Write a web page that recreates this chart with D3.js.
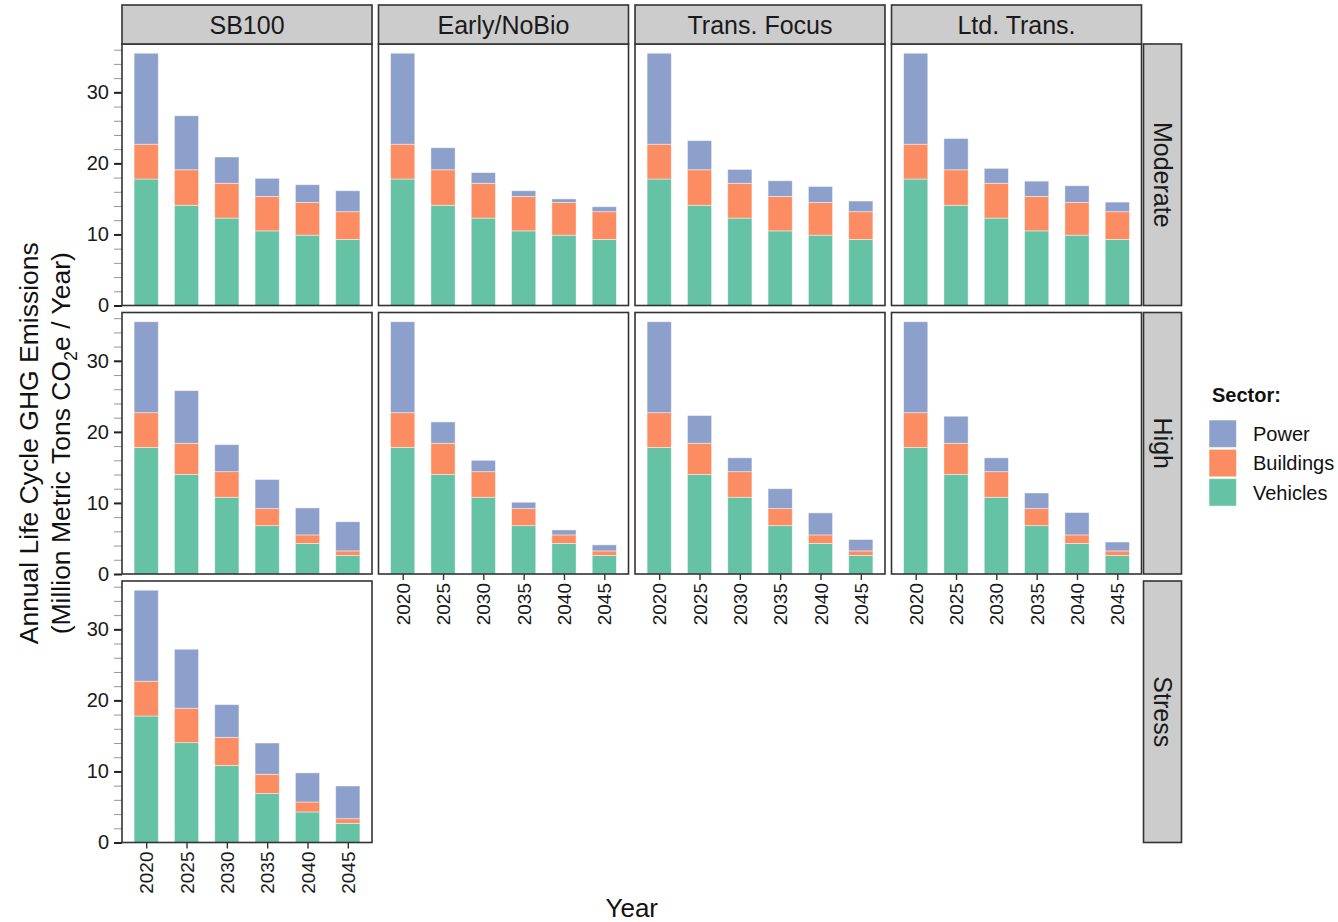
<!DOCTYPE html>
<html>
<head>
<meta charset="utf-8">
<script src="https://cdn.jsdelivr.net/npm/d3@7"></script>
<style>
  html, body { margin: 0; padding: 0; background: #fff; }
  svg { display: block; font-family: "Liberation Sans", Arial, sans-serif; }
</style>
</head>
<body>
<svg id="chart" width="1338" height="922"></svg>
<script>
// ---- data: annual life-cycle GHG emissions (Mt CO2e / yr) ----
const years = [2020, 2025, 2030, 2035, 2040, 2045];
const scenarios = ["SB100", "Early/NoBio", "Trans. Focus", "Ltd. Trans."];
const demandCases = ["Moderate", "High", "Stress"];
const sectors = ["Power", "Buildings", "Vehicles"];
const sectorColors = ["#8DA0CB", "#FC8D62", "#66C2A5"];
const yTicks = [0, 10, 20, 30];

// vehicles and buildings depend only on the demand case
const vehiclesModerate = [17.8, 14.1, 12.3, 10.5, 9.9, 9.3];
const vehiclesHigh     = [17.8, 14.0, 10.8, 6.8, 4.3, 2.6];
const vehiclesStress   = [17.8, 14.05, 10.85, 6.9, 4.3, 2.7];

const buildingsModerate = [4.9, 5.0, 4.9, 4.85, 4.6, 3.9];
const buildingsHigh     = [4.9, 4.4, 3.6, 2.4, 1.2, 0.65];
const buildingsStress   = [4.9, 4.85, 3.95, 2.7, 1.4, 0.65];

// power differs per scenario
const powerSB100Moderate      = [12.8, 7.6, 3.7, 2.55, 2.5, 2.95];
const powerEarlyModerate      = [12.8, 3.1, 1.5, 0.8, 0.5, 0.7];
const powerTransFocusModerate = [12.8, 4.1, 1.95, 2.2, 2.25, 1.5];
const powerLtdTransModerate   = [12.8, 4.4, 2.1, 2.15, 2.35, 1.35];
const powerSB100High          = [12.8, 7.4, 3.8, 4.1, 3.8, 4.1];
const powerEarlyHigh          = [12.8, 3.0, 1.6, 0.9, 0.7, 0.85];
const powerTransFocusHigh     = [12.8, 3.9, 1.95, 2.8, 3.1, 1.6];
const powerLtdTransHigh       = [12.8, 3.8, 1.95, 2.2, 3.15, 1.25];
const powerSB100Stress        = [12.8, 8.3, 4.6, 4.4, 4.1, 4.6];

// panel list: [row, col, power, buildings, vehicles]
const panels = [
  [0, 0, powerSB100Moderate, buildingsModerate, vehiclesModerate],
  [0, 1, powerEarlyModerate, buildingsModerate, vehiclesModerate],
  [0, 2, powerTransFocusModerate, buildingsModerate, vehiclesModerate],
  [0, 3, powerLtdTransModerate, buildingsModerate, vehiclesModerate],
  [1, 0, powerSB100High, buildingsHigh, vehiclesHigh],
  [1, 1, powerEarlyHigh, buildingsHigh, vehiclesHigh],
  [1, 2, powerTransFocusHigh, buildingsHigh, vehiclesHigh],
  [1, 3, powerLtdTransHigh, buildingsHigh, vehiclesHigh],
  [2, 0, powerSB100Stress, buildingsStress, vehiclesStress]
];

// ---- layout ----
const svg = d3.select("#chart");
const plotLeft = 122, plotTop = 44;
const panelW = 250, panelH = 261.5;
const gapX = 6.5, gapY = 7;
const stripH = 39, stripW = 38;
const border = "#333333";
const stripFill = "#CCCCCC";

const colX = c => plotLeft + c * (panelW + gapX);
const rowY = r => plotTop + r * (panelH + gapY);

const x = d3.scalePoint().domain(years).range([0, panelW]).padding(0.6);
const bandW = x.step() * 0.6;
const y = d3.scaleLinear().domain([0, 36.8]).range([panelH, 0]);
const color = d3.scaleOrdinal().domain(sectors).range(sectorColors);

const stack = d3.stack().keys(["Vehicles", "Buildings", "Power"]);

// bottom-most row for each column (where the year axis is drawn)
const bottomRow = {};
panels.forEach(p => { bottomRow[p[1]] = Math.max(bottomRow[p[1]] ?? -1, p[0]); });

panels.forEach(([r, c, power, buildings, vehicles]) => {
  const g = svg.append("g").attr("transform", `translate(${colX(c)},${rowY(r)})`);
  const rows = years.map((yr, i) => ({ year: yr, Power: power[i], Buildings: buildings[i], Vehicles: vehicles[i] }));
  const series = stack(rows);

  g.append("rect").attr("width", panelW).attr("height", panelH).attr("fill", "#fff");

  g.selectAll("g.layer").data(series).join("g")
    .attr("class", "layer")
    .attr("fill", d => color(d.key))
    .selectAll("rect").data(d => d).join("rect")
      .attr("x", d => x(d.data.year) - bandW / 2)
      .attr("width", bandW)
      .attr("y", d => y(d[1]))
      .attr("height", d => y(d[0]) - y(d[1]))
      .attr("stroke", "#ffffff")
      .attr("stroke-opacity", 0.55)
      .attr("stroke-width", 0.8);

  // y axis on first column
  if (c === 0) {
    const minor = g.append("g").call(d3.axisLeft(y).tickValues(d3.range(0, 37, 2)).tickSize(8).tickFormat(""));
    minor.select(".domain").remove();
    minor.selectAll("line").attr("stroke", "#8a8a8a").attr("stroke-width", 0.9);
    const major = g.append("g").call(d3.axisLeft(y).tickValues(yTicks).tickSize(8).tickPadding(5));
    major.select(".domain").remove();
    major.selectAll("line").attr("stroke", "#222").attr("stroke-width", 2);
    major.selectAll("text").attr("font-size", 20).attr("fill", "#1a1a1a")
      .attr("font-family", "'Liberation Sans', Arial, sans-serif");
  }

  // year axis under the last panel of each column
  if (bottomRow[c] === r) {
    const ax = g.append("g").attr("transform", `translate(0,${panelH})`)
      .call(d3.axisBottom(x).tickSize(6).tickPadding(6));
    ax.select(".domain").remove();
    ax.selectAll("line").attr("stroke", "#333").attr("stroke-width", 1.4);
    ax.selectAll("text")
      .attr("font-size", 19).attr("fill", "#1a1a1a")
      .attr("font-family", "'Liberation Sans', Arial, sans-serif")
      .attr("transform", "rotate(-90)")
      .attr("text-anchor", "end")
      .attr("dy", "0.35em")
      .attr("x", -9).attr("y", 0);
  }

  g.append("rect").attr("width", panelW).attr("height", panelH)
    .attr("fill", "none").attr("stroke", border).attr("stroke-width", 1.6);
});

// ---- column strips ----
scenarios.forEach((s, c) => {
  const g = svg.append("g").attr("transform", `translate(${colX(c)},${plotTop - stripH})`);
  g.append("rect").attr("width", panelW).attr("height", stripH)
    .attr("fill", stripFill).attr("stroke", border).attr("stroke-width", 1.6);
  g.append("text").attr("x", panelW / 2).attr("y", stripH / 2)
    .attr("text-anchor", "middle").attr("dominant-baseline", "central")
    .attr("font-size", 25).attr("fill", "#1a1a1a").text(s);
});

// ---- row strips ----
const stripX = colX(3) + panelW + 2;
demandCases.forEach((d, r) => {
  const g = svg.append("g").attr("transform", `translate(${stripX},${rowY(r)})`);
  g.append("rect").attr("width", stripW).attr("height", panelH)
    .attr("fill", stripFill).attr("stroke", border).attr("stroke-width", 1.6);
  g.append("text")
    .attr("transform", `translate(${stripW / 2},${panelH / 2}) rotate(90)`)
    .attr("text-anchor", "middle").attr("dominant-baseline", "central")
    .attr("font-size", 25).attr("fill", "#1a1a1a").text(d);
});

// ---- axis titles ----
const plotMidX = plotLeft + (4 * panelW + 3 * gapX) / 2;
const plotMidY = plotTop + (3 * panelH + 2 * gapY) / 2;

svg.append("text").attr("x", plotMidX).attr("y", 917)
  .attr("text-anchor", "middle").attr("font-size", 26).attr("fill", "#111").text("Year");

const yt = svg.append("g").attr("transform", `translate(38,${plotMidY}) rotate(-90)`);
yt.append("text").attr("x", 0).attr("y", 0)
  .attr("text-anchor", "middle").attr("font-size", 26.5).attr("fill", "#111")
  .text("Annual Life Cycle GHG Emissions");
const line2 = yt.append("text").attr("x", 0).attr("y", 32)
  .attr("text-anchor", "middle").attr("font-size", 26.5).attr("fill", "#111");
line2.append("tspan").text("(Million Metric Tons CO");
line2.append("tspan").attr("font-size", 18).attr("dy", 7).text("2");
line2.append("tspan").attr("dy", -7).text("e / Year)");

// ---- legend ----
const lg = svg.append("g").attr("transform", "translate(1209,402)");
lg.append("text").attr("x", 3).attr("y", 0).attr("font-size", 20)
  .attr("font-weight", "bold").attr("fill", "#111").text("Sector:");
sectors.forEach((s, i) => {
  const row = lg.append("g").attr("transform", `translate(0,${18 + i * 29.3})`);
  row.append("rect").attr("width", 27.5).attr("height", 27.5)
    .attr("fill", color(s)).attr("stroke", "#ffffff").attr("stroke-opacity", 0.55);
  row.append("text").attr("x", 44).attr("y", 14).attr("dominant-baseline", "central")
    .attr("font-size", 20).attr("fill", "#111").text(s);
});
</script>
</body>
</html>
